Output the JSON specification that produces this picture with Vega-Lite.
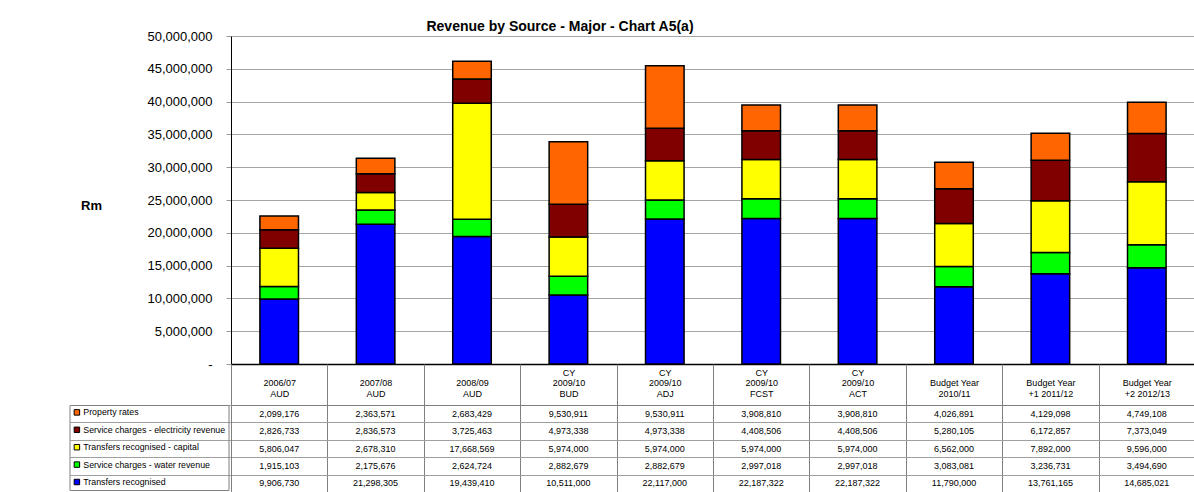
{
  "$schema": "https://vega.github.io/schema/vega-lite/v6.json",
  "padding": {"left": 69, "top": 20, "right": 0, "bottom": 0},
  "background": "#ffffff",
  "config": {"view": {"stroke": null}, "font": "Liberation Sans"},
  "data": {"values": [
    {"cat": "2006/07\nAUD", "series": "Transfers recognised", "row": 5, "value": 9906730},
    {"cat": "2006/07\nAUD", "series": "Service charges - water revenue", "row": 4, "value": 1915103},
    {"cat": "2006/07\nAUD", "series": "Transfers recognised - capital", "row": 3, "value": 5806047},
    {"cat": "2006/07\nAUD", "series": "Service charges - electricity revenue", "row": 2, "value": 2826733},
    {"cat": "2006/07\nAUD", "series": "Property rates", "row": 1, "value": 2099176},
    {"cat": "2007/08\nAUD", "series": "Transfers recognised", "row": 5, "value": 21298305},
    {"cat": "2007/08\nAUD", "series": "Service charges - water revenue", "row": 4, "value": 2175676},
    {"cat": "2007/08\nAUD", "series": "Transfers recognised - capital", "row": 3, "value": 2678310},
    {"cat": "2007/08\nAUD", "series": "Service charges - electricity revenue", "row": 2, "value": 2836573},
    {"cat": "2007/08\nAUD", "series": "Property rates", "row": 1, "value": 2363571},
    {"cat": "2008/09\nAUD", "series": "Transfers recognised", "row": 5, "value": 19439410},
    {"cat": "2008/09\nAUD", "series": "Service charges - water revenue", "row": 4, "value": 2624724},
    {"cat": "2008/09\nAUD", "series": "Transfers recognised - capital", "row": 3, "value": 17668569},
    {"cat": "2008/09\nAUD", "series": "Service charges - electricity revenue", "row": 2, "value": 3725463},
    {"cat": "2008/09\nAUD", "series": "Property rates", "row": 1, "value": 2683429},
    {"cat": "CY\n2009/10\nBUD", "series": "Transfers recognised", "row": 5, "value": 10511000},
    {"cat": "CY\n2009/10\nBUD", "series": "Service charges - water revenue", "row": 4, "value": 2882679},
    {"cat": "CY\n2009/10\nBUD", "series": "Transfers recognised - capital", "row": 3, "value": 5974000},
    {"cat": "CY\n2009/10\nBUD", "series": "Service charges - electricity revenue", "row": 2, "value": 4973338},
    {"cat": "CY\n2009/10\nBUD", "series": "Property rates", "row": 1, "value": 9530911},
    {"cat": "CY\n2009/10\nADJ", "series": "Transfers recognised", "row": 5, "value": 22117000},
    {"cat": "CY\n2009/10\nADJ", "series": "Service charges - water revenue", "row": 4, "value": 2882679},
    {"cat": "CY\n2009/10\nADJ", "series": "Transfers recognised - capital", "row": 3, "value": 5974000},
    {"cat": "CY\n2009/10\nADJ", "series": "Service charges - electricity revenue", "row": 2, "value": 4973338},
    {"cat": "CY\n2009/10\nADJ", "series": "Property rates", "row": 1, "value": 9530911},
    {"cat": "CY\n2009/10\nFCST", "series": "Transfers recognised", "row": 5, "value": 22187322},
    {"cat": "CY\n2009/10\nFCST", "series": "Service charges - water revenue", "row": 4, "value": 2997018},
    {"cat": "CY\n2009/10\nFCST", "series": "Transfers recognised - capital", "row": 3, "value": 5974000},
    {"cat": "CY\n2009/10\nFCST", "series": "Service charges - electricity revenue", "row": 2, "value": 4408506},
    {"cat": "CY\n2009/10\nFCST", "series": "Property rates", "row": 1, "value": 3908810},
    {"cat": "CY\n2009/10\nACT", "series": "Transfers recognised", "row": 5, "value": 22187322},
    {"cat": "CY\n2009/10\nACT", "series": "Service charges - water revenue", "row": 4, "value": 2997018},
    {"cat": "CY\n2009/10\nACT", "series": "Transfers recognised - capital", "row": 3, "value": 5974000},
    {"cat": "CY\n2009/10\nACT", "series": "Service charges - electricity revenue", "row": 2, "value": 4408506},
    {"cat": "CY\n2009/10\nACT", "series": "Property rates", "row": 1, "value": 3908810},
    {"cat": "Budget Year\n2010/11", "series": "Transfers recognised", "row": 5, "value": 11790000},
    {"cat": "Budget Year\n2010/11", "series": "Service charges - water revenue", "row": 4, "value": 3083081},
    {"cat": "Budget Year\n2010/11", "series": "Transfers recognised - capital", "row": 3, "value": 6562000},
    {"cat": "Budget Year\n2010/11", "series": "Service charges - electricity revenue", "row": 2, "value": 5280105},
    {"cat": "Budget Year\n2010/11", "series": "Property rates", "row": 1, "value": 4026891},
    {"cat": "Budget Year\n+1  2011/12", "series": "Transfers recognised", "row": 5, "value": 13761165},
    {"cat": "Budget Year\n+1  2011/12", "series": "Service charges - water revenue", "row": 4, "value": 3236731},
    {"cat": "Budget Year\n+1  2011/12", "series": "Transfers recognised - capital", "row": 3, "value": 7892000},
    {"cat": "Budget Year\n+1  2011/12", "series": "Service charges - electricity revenue", "row": 2, "value": 6172857},
    {"cat": "Budget Year\n+1  2011/12", "series": "Property rates", "row": 1, "value": 4129098},
    {"cat": "Budget Year\n+2  2012/13", "series": "Transfers recognised", "row": 5, "value": 14685021},
    {"cat": "Budget Year\n+2  2012/13", "series": "Service charges - water revenue", "row": 4, "value": 3494690},
    {"cat": "Budget Year\n+2  2012/13", "series": "Transfers recognised - capital", "row": 3, "value": 9596000},
    {"cat": "Budget Year\n+2  2012/13", "series": "Service charges - electricity revenue", "row": 2, "value": 7373049},
    {"cat": "Budget Year\n+2  2012/13", "series": "Property rates", "row": 1, "value": 4749108}
  ]},
  "resolve": {"scale": {"x": "independent", "color": "shared"}},
  "spacing": -8,
  "vconcat": [
    {
      "width": 964,
      "height": 328,
      "title": {"text": "Revenue by Source - Major - Chart A5(a)", "fontSize": 14, "fontWeight": "bold", "color": "#000000", "anchor": "middle", "dx": -153, "offset": -4},
      "mark": {"type": "bar", "stroke": "#000000", "strokeWidth": 1.5},
      "encoding": {
        "x": {"field": "cat", "type": "nominal", "sort": null,
              "scale": {"paddingInner": 0.6, "paddingOuter": 0.3},
              "axis": {"labels": false, "ticks": false, "title": null, "domainColor": "#000000", "domainWidth": 1.5}},
        "y": {"field": "value", "type": "quantitative", "stack": "zero",
              "scale": {"domain": [0, 50000000], "nice": false},
              "axis": {"values": [0, 5000000, 10000000, 15000000, 20000000, 25000000, 30000000, 35000000, 40000000, 45000000, 50000000],
                       "labelExpr": "datum.value == 0 ? '-' : format(datum.value, ',')",
                       "labelFontSize": 13, "labelColor": "#000000", "labelPadding": 14,
                       "tickSize": 5, "tickColor": "#999999", "gridColor": "#a6a6a6", "domainColor": "#000000",
                       "title": "Rm", "titleAngle": 0, "titleFontSize": 13, "titleFontWeight": "bold", "titleColor": "#000000",
                       "titleX": -140, "titleY": 169, "titleAlign": "center", "titleBaseline": "middle"}},
        "color": {"field": "series", "type": "nominal",
                  "scale": {"domain": ["Property rates", "Service charges - electricity revenue", "Transfers recognised - capital", "Service charges - water revenue", "Transfers recognised"],
                            "range": ["#ff6600", "#800000", "#ffff00", "#00ff00", "#0000ff"]},
                  "legend": {"title": null, "orient": "none", "legendX": -161.5, "legendY": 369,
                             "symbolType": "square", "symbolSize": 30, "symbolStrokeColor": "#000000", "symbolStrokeWidth": 1,
                             "labelFontSize": 8.8, "labelColor": "#000000", "labelOffset": 2, "labelLimit": 300,
                             "rowPadding": 6.4, "padding": 3, "strokeColor": "#808080"}},
        "order": {"field": "row", "sort": "descending"}
      }
    },
    {
      "width": 964,
      "height": 87,
      "mark": {"type": "text", "fontSize": 9, "color": "#000000"},
      "encoding": {
        "x": {"field": "cat", "type": "nominal", "sort": null,
              "scale": {"padding": 0},
              "axis": {"orient": "top", "title": null, "labelAngle": 0,
                       "labelExpr": "split(indexof(datum.label, 'CY') == 0 ? datum.label : '\\n' + datum.label, '\\n')",
                       "labelFontSize": 9, "labelLineHeight": 10.5, "labelColor": "#000000",
                       "labelBaseline": "top",
                       "labelPadding": -4, "tickSize": 41, "tickBand": "extent", "tickColor": "#808080",
                       "domainColor": "#808080", "grid": true, "gridColor": "#808080", "gridOpacity": 1}},
        "y": {"field": "series", "type": "nominal",
              "sort": ["Property rates", "Service charges - electricity revenue", "Transfers recognised - capital", "Service charges - water revenue", "Transfers recognised"],
              "axis": {"title": null, "labels": false, "tickSize": 161, "tickBand": "extent", "tickColor": "#a0a0a0",
                       "grid": true, "gridColor": "#a0a0a0", "gridOpacity": 1, "domainColor": "#808080"}},
        "text": {"field": "value", "type": "quantitative", "format": ","}
      }
    }
  ]
}
